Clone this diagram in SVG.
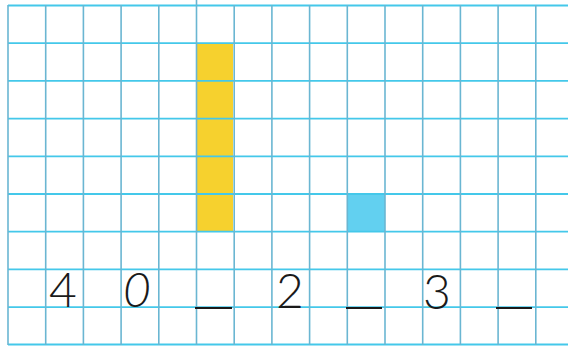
<svg xmlns="http://www.w3.org/2000/svg" width="568" height="348" viewBox="0 0 568 348">
<style>
.h{stroke:#44c8ea;stroke-width:1.8}
.v{stroke:#6ab6d2;stroke-width:1.6}
.d{font-family:Lato,"Open Sans","DejaVu Sans",sans-serif;font-weight:300;font-size:48px;fill:#1a1a1a;text-anchor:middle}
.u{stroke:#1a1a1a;stroke-width:2}
</style>
<rect width="568" height="348" fill="#fff"/>
<g id="fills">
<rect x="197" y="43" width="36" height="189" fill="#f6d12e"/>
<rect x="347" y="194" width="38" height="38" fill="#62d0f0"/>
</g>
<g id="grid">
<g class="h">
<line x1="8" y1="5.5" x2="568" y2="5.5"/>
<line x1="8" y1="43.2" x2="568" y2="43.2"/>
<line x1="8" y1="80.9" x2="568" y2="80.9"/>
<line x1="8" y1="118.6" x2="568" y2="118.6"/>
<line x1="8" y1="156.3" x2="568" y2="156.3"/>
<line x1="8" y1="194" x2="568" y2="194"/>
<line x1="8" y1="231.7" x2="568" y2="231.7"/>
<line x1="8" y1="269.4" x2="568" y2="269.4"/>
<line x1="8" y1="307.1" x2="568" y2="307.1"/>
<line x1="8" y1="344.5" x2="568" y2="344.5"/>
</g>
<g class="v">
<line x1="8" y1="5" x2="8" y2="345"/>
<line x1="45.7" y1="5" x2="45.7" y2="345"/>
<line x1="83.4" y1="5" x2="83.4" y2="345"/>
<line x1="121.1" y1="5" x2="121.1" y2="345"/>
<line x1="158.8" y1="5" x2="158.8" y2="345"/>
<line x1="196.5" y1="0" x2="196.5" y2="345"/>
<line x1="234.2" y1="5" x2="234.2" y2="345"/>
<line x1="271.9" y1="5" x2="271.9" y2="345"/>
<line x1="309.6" y1="5" x2="309.6" y2="345"/>
<line x1="347.3" y1="5" x2="347.3" y2="345"/>
<line x1="385" y1="5" x2="385" y2="345"/>
<line x1="422.7" y1="5" x2="422.7" y2="345"/>
<line x1="460.4" y1="5" x2="460.4" y2="345"/>
<line x1="498.1" y1="5" x2="498.1" y2="345"/>
<line x1="535.8" y1="5" x2="535.8" y2="345"/>
</g>
</g>
<g id="labels">
<text class="d" x="63" y="307">4</text>
<text class="d" x="137" y="307" font-style="italic">0</text>
<text class="d" x="290" y="308">2</text>
<text class="d" x="437" y="309">3</text>
</g>
<g id="blanks" class="u">
<line x1="195" y1="308" x2="232" y2="308"/>
<line x1="346" y1="308" x2="382" y2="308"/>
<line x1="496" y1="308" x2="532" y2="308"/>
</g>
</svg>
